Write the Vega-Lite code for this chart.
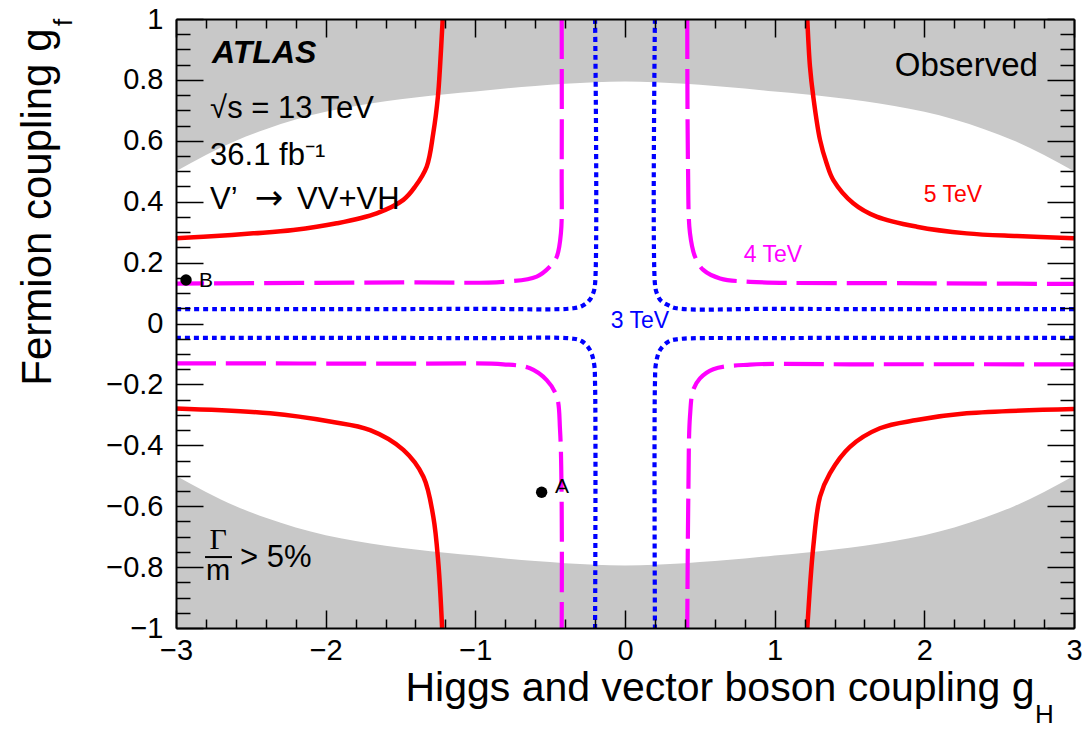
{
  "$schema": "https://vega.github.io/schema/vega-lite/v6.json",
  "width": 898,
  "height": 609,
  "autosize": {"type": "none"},
  "padding": {"left": 176, "top": 19, "right": 9, "bottom": 102},
  "background": "white",
  "config": {"view": {"fill": "#c8c8c8", "stroke": null}, "font": "Liberation Sans"},
  "datasets": {
    "bound": [
      {"x": -3.0, "lo": -0.500, "hi": 0.500},
      {"x": -2.8, "lo": -0.553, "hi": 0.553},
      {"x": -2.6, "lo": -0.600, "hi": 0.600},
      {"x": -2.4, "lo": -0.638, "hi": 0.638},
      {"x": -2.2, "lo": -0.670, "hi": 0.670},
      {"x": -2.0, "lo": -0.695, "hi": 0.695},
      {"x": -1.8, "lo": -0.714, "hi": 0.714},
      {"x": -1.6, "lo": -0.730, "hi": 0.730},
      {"x": -1.4, "lo": -0.742, "hi": 0.742},
      {"x": -1.2, "lo": -0.753, "hi": 0.753},
      {"x": -1.0, "lo": -0.762, "hi": 0.762},
      {"x": -0.8, "lo": -0.772, "hi": 0.772},
      {"x": -0.6, "lo": -0.780, "hi": 0.780},
      {"x": -0.4, "lo": -0.787, "hi": 0.787},
      {"x": -0.2, "lo": -0.792, "hi": 0.792},
      {"x": 0.0, "lo": -0.795, "hi": 0.795},
      {"x": 0.2, "lo": -0.792, "hi": 0.792},
      {"x": 0.4, "lo": -0.787, "hi": 0.787},
      {"x": 0.6, "lo": -0.780, "hi": 0.780},
      {"x": 0.8, "lo": -0.772, "hi": 0.772},
      {"x": 1.0, "lo": -0.762, "hi": 0.762},
      {"x": 1.2, "lo": -0.753, "hi": 0.753},
      {"x": 1.4, "lo": -0.742, "hi": 0.742},
      {"x": 1.6, "lo": -0.730, "hi": 0.730},
      {"x": 1.8, "lo": -0.714, "hi": 0.714},
      {"x": 2.0, "lo": -0.695, "hi": 0.695},
      {"x": 2.2, "lo": -0.670, "hi": 0.670},
      {"x": 2.4, "lo": -0.638, "hi": 0.638},
      {"x": 2.6, "lo": -0.600, "hi": 0.600},
      {"x": 2.8, "lo": -0.553, "hi": 0.553},
      {"x": 3.0, "lo": -0.500, "hi": 0.500}
    ],
    "red": [
      {"b": "UL", "i": 1, "x": -1.218, "y": 1.0},
      {"b": "UL", "i": 2, "x": -1.236, "y": 0.843},
      {"b": "UL", "i": 3, "x": -1.250, "y": 0.745},
      {"b": "UL", "i": 4, "x": -1.281, "y": 0.625},
      {"b": "UL", "i": 5, "x": -1.325, "y": 0.515},
      {"b": "UL", "i": 6, "x": -1.403, "y": 0.449},
      {"b": "UL", "i": 7, "x": -1.481, "y": 0.406},
      {"b": "UL", "i": 8, "x": -1.659, "y": 0.362},
      {"b": "UL", "i": 9, "x": -1.926, "y": 0.329},
      {"b": "UL", "i": 10, "x": -2.216, "y": 0.307},
      {"b": "UL", "i": 11, "x": -2.483, "y": 0.296},
      {"b": "UL", "i": 12, "x": -2.817, "y": 0.285},
      {"b": "UL", "i": 13, "x": -3.0, "y": 0.280},
      {"b": "UR", "i": 1, "x": 1.218, "y": 1.0},
      {"b": "UR", "i": 2, "x": 1.236, "y": 0.843},
      {"b": "UR", "i": 3, "x": 1.258, "y": 0.745},
      {"b": "UR", "i": 4, "x": 1.303, "y": 0.603},
      {"b": "UR", "i": 5, "x": 1.347, "y": 0.526},
      {"b": "UR", "i": 6, "x": 1.392, "y": 0.471},
      {"b": "UR", "i": 7, "x": 1.525, "y": 0.395},
      {"b": "UR", "i": 8, "x": 1.681, "y": 0.351},
      {"b": "UR", "i": 9, "x": 1.949, "y": 0.318},
      {"b": "UR", "i": 10, "x": 2.283, "y": 0.296},
      {"b": "UR", "i": 11, "x": 2.617, "y": 0.287},
      {"b": "UR", "i": 12, "x": 3.0, "y": 0.280},
      {"b": "LL", "i": 1, "x": -1.222, "y": -1.0},
      {"b": "LL", "i": 2, "x": -1.247, "y": -0.788},
      {"b": "LL", "i": 3, "x": -1.281, "y": -0.634},
      {"b": "LL", "i": 4, "x": -1.347, "y": -0.503},
      {"b": "LL", "i": 5, "x": -1.481, "y": -0.415},
      {"b": "LL", "i": 6, "x": -1.703, "y": -0.350},
      {"b": "LL", "i": 7, "x": -1.971, "y": -0.322},
      {"b": "LL", "i": 8, "x": -2.371, "y": -0.295},
      {"b": "LL", "i": 9, "x": -3.0, "y": -0.279},
      {"b": "LR", "i": 1, "x": 1.218, "y": -1.0},
      {"b": "LR", "i": 2, "x": 1.258, "y": -0.733},
      {"b": "LR", "i": 3, "x": 1.303, "y": -0.569},
      {"b": "LR", "i": 4, "x": 1.369, "y": -0.492},
      {"b": "LR", "i": 5, "x": 1.503, "y": -0.405},
      {"b": "LR", "i": 6, "x": 1.703, "y": -0.344},
      {"b": "LR", "i": 7, "x": 1.949, "y": -0.317},
      {"b": "LR", "i": 8, "x": 2.283, "y": -0.295},
      {"b": "LR", "i": 9, "x": 3.0, "y": -0.281}
    ],
    "magenta": [
      {"b": "UL", "i": 1, "x": -0.423, "y": 1.0},
      {"b": "UL", "i": 2, "x": -0.423, "y": 0.5},
      {"b": "UL", "i": 3, "x": -0.428, "y": 0.297},
      {"b": "UL", "i": 4, "x": -0.456, "y": 0.219},
      {"b": "UL", "i": 5, "x": -0.501, "y": 0.187},
      {"b": "UL", "i": 6, "x": -0.590, "y": 0.154},
      {"b": "UL", "i": 7, "x": -0.813, "y": 0.137},
      {"b": "UL", "i": 8, "x": -1.48, "y": 0.135},
      {"b": "UL", "i": 9, "x": -3.0, "y": 0.131},
      {"b": "UR", "i": 1, "x": 0.416, "y": 1.0},
      {"b": "UR", "i": 2, "x": 0.421, "y": 0.515},
      {"b": "UR", "i": 3, "x": 0.434, "y": 0.297},
      {"b": "UR", "i": 4, "x": 0.468, "y": 0.219},
      {"b": "UR", "i": 5, "x": 0.523, "y": 0.176},
      {"b": "UR", "i": 6, "x": 0.635, "y": 0.148},
      {"b": "UR", "i": 7, "x": 0.835, "y": 0.137},
      {"b": "UR", "i": 8, "x": 2.06, "y": 0.132},
      {"b": "UR", "i": 9, "x": 3.0, "y": 0.130},
      {"b": "LL", "i": 1, "x": -3.0, "y": -0.131},
      {"b": "LL", "i": 2, "x": -1.5, "y": -0.132},
      {"b": "LL", "i": 3, "x": -0.813, "y": -0.134},
      {"b": "LL", "i": 4, "x": -0.635, "y": -0.147},
      {"b": "LL", "i": 5, "x": -0.523, "y": -0.186},
      {"b": "LL", "i": 6, "x": -0.456, "y": -0.240},
      {"b": "LL", "i": 7, "x": -0.434, "y": -0.350},
      {"b": "LL", "i": 8, "x": -0.423, "y": -0.6},
      {"b": "LL", "i": 9, "x": -0.423, "y": -1.0},
      {"b": "LR", "i": 1, "x": 3.0, "y": -0.134},
      {"b": "LR", "i": 2, "x": 1.5, "y": -0.134},
      {"b": "LR", "i": 3, "x": 0.835, "y": -0.135},
      {"b": "LR", "i": 4, "x": 0.590, "y": -0.150},
      {"b": "LR", "i": 5, "x": 0.501, "y": -0.180},
      {"b": "LR", "i": 6, "x": 0.456, "y": -0.218},
      {"b": "LR", "i": 7, "x": 0.434, "y": -0.306},
      {"b": "LR", "i": 8, "x": 0.423, "y": -0.569},
      {"b": "LR", "i": 9, "x": 0.416, "y": -1.0}
    ],
    "blue": [
      {"b": "UL", "i": 1, "x": -0.200, "y": 1.0},
      {"b": "UL", "i": 2, "x": -0.200, "y": 0.130},
      {"b": "UL", "i": 3, "x": -0.212, "y": 0.100},
      {"b": "UL", "i": 4, "x": -0.240, "y": 0.075},
      {"b": "UL", "i": 5, "x": -0.285, "y": 0.058},
      {"b": "UL", "i": 6, "x": -0.345, "y": 0.050},
      {"b": "UL", "i": 7, "x": -1.0, "y": 0.048},
      {"b": "UL", "i": 8, "x": -3.0, "y": 0.047},
      {"b": "UR", "i": 1, "x": 0.200, "y": 1.0},
      {"b": "UR", "i": 2, "x": 0.200, "y": 0.130},
      {"b": "UR", "i": 3, "x": 0.212, "y": 0.100},
      {"b": "UR", "i": 4, "x": 0.240, "y": 0.075},
      {"b": "UR", "i": 5, "x": 0.289, "y": 0.060},
      {"b": "UR", "i": 6, "x": 0.345, "y": 0.050},
      {"b": "UR", "i": 7, "x": 1.0, "y": 0.048},
      {"b": "UR", "i": 8, "x": 3.0, "y": 0.047},
      {"b": "LL", "i": 1, "x": -3.0, "y": -0.047},
      {"b": "LL", "i": 2, "x": -1.0, "y": -0.048},
      {"b": "LL", "i": 3, "x": -0.345, "y": -0.050},
      {"b": "LL", "i": 4, "x": -0.289, "y": -0.058},
      {"b": "LL", "i": 5, "x": -0.234, "y": -0.087},
      {"b": "LL", "i": 6, "x": -0.207, "y": -0.131},
      {"b": "LL", "i": 7, "x": -0.200, "y": -0.2},
      {"b": "LL", "i": 8, "x": -0.200, "y": -1.0},
      {"b": "LR", "i": 1, "x": 3.0, "y": -0.047},
      {"b": "LR", "i": 2, "x": 1.0, "y": -0.048},
      {"b": "LR", "i": 3, "x": 0.345, "y": -0.052},
      {"b": "LR", "i": 4, "x": 0.289, "y": -0.060},
      {"b": "LR", "i": 5, "x": 0.234, "y": -0.087},
      {"b": "LR", "i": 6, "x": 0.207, "y": -0.131},
      {"b": "LR", "i": 7, "x": 0.200, "y": -0.2},
      {"b": "LR", "i": 8, "x": 0.200, "y": -1.0}
    ],
    "points": [
      {"name": "A", "x": -0.557, "y": -0.554},
      {"name": "B", "x": -2.933, "y": 0.143}
    ],
    "pointLabels": [
      {"t": "A", "x": -0.468, "y": -0.557},
      {"t": "B", "x": -2.846, "y": 0.120}
    ],
    "massLabels": [
      {"mass": "5 TeV", "x": 2.191, "y": 0.399},
      {"mass": "4 TeV", "x": 0.989, "y": 0.202},
      {"mass": "3 TeV", "x": 0.100, "y": -0.015}
    ],
    "atlas": [{"t": "ATLAS", "x": -2.759, "y": 0.855}],
    "info": [
      {"t": "√s = 13 TeV", "x": -2.772, "y": 0.675},
      {"t": "36.1 fb⁻¹", "x": -2.772, "y": 0.521},
      {"t": "V’", "x": -2.772, "y": 0.376},
      {"t": "VV+VH", "x": -2.191, "y": 0.376}
    ],
    "arrow": [{"t": "→", "x": -2.378, "y": 0.376}],
    "observed": [{"t": "Observed", "x": 2.759, "y": 0.813}],
    "gamma": [{"t": "Γ", "x": -2.719, "y": -0.741}],
    "mden": [{"t": "m", "x": -2.719, "y": -0.842}],
    "fracbar": [{"x": -2.806, "x2": -2.626, "y": -0.767}],
    "gt": [{"t": "> 5%", "x": -2.572, "y": -0.800}],
    "subH": [{"t": "H", "x": 2.739, "y": -1.312}],
    "subF": [{"t": "f", "x": -3.694, "y": 0.977}]
  },
  "resolve": {"axis": {"x": "independent", "y": "independent"}},
  "layer": [
    {
      "data": {"name": "bound"},
      "mark": {"type": "area", "color": "white", "interpolate": "monotone"},
      "encoding": {
        "x": {"field": "x", "type": "quantitative", "scale": {"domain": [-3, 3], "nice": false, "zero": false},
          "axis": {"orient": "bottom", "values": [-3, -2, -1, 0, 1, 2, 3], "format": "~g", "ticks": false, "grid": false,
            "domain": true, "domainColor": "black", "domainWidth": 2,
            "labelFont": "Liberation Sans", "labelFontSize": 29, "labelColor": "black", "labelPadding": 8,
            "labelFlush": false, "labelOverlap": false, "labelBound": false,
            "title": "Higgs and vector boson coupling g", "titleFont": "Liberation Sans", "titleFontSize": 41,
            "titleFontWeight": "normal", "titleColor": "black", "titleAlign": "left", "titleBaseline": "alphabetic",
            "titleX": 229, "titleY": 72, "zindex": 1}},
        "y": {"field": "lo", "type": "quantitative", "scale": {"domain": [-1, 1], "nice": false, "zero": false},
          "axis": {"orient": "left", "values": [-1, -0.8, -0.6, -0.4, -0.2, 0, 0.2, 0.4, 0.6, 0.8, 1], "format": "~g",
            "ticks": false, "grid": false, "domain": true, "domainColor": "black", "domainWidth": 2,
            "labelFont": "Liberation Sans", "labelFontSize": 29, "labelColor": "black", "labelPadding": 13,
            "labelFlush": false, "labelOverlap": false, "labelBound": false,
            "title": "Fermion coupling g", "titleFont": "Liberation Sans", "titleFontSize": 42,
            "titleFontWeight": "normal", "titleColor": "black", "titleAngle": 270, "titleAlign": "right",
            "titleBaseline": "alphabetic", "titleX": -126, "titleY": 9, "zindex": 1}},
        "y2": {"field": "hi"}
      }
    },
    {
      "data": {"name": "red"},
      "mark": {"type": "line", "color": "#ff0000", "strokeWidth": 4.5, "interpolate": "catmull-rom"},
      "encoding": {
        "x": {"field": "x", "type": "quantitative",
          "axis": {"orient": "bottom", "values": [-3, -2, -1, 0, 1, 2, 3], "ticks": true, "tickSize": -18, "tickColor": "black",
            "tickWidth": 1.5, "labels": false, "domain": false, "grid": false, "title": null, "zindex": 1}},
        "y": {"field": "y", "type": "quantitative",
          "axis": {"orient": "left", "values": [-1, -0.8, -0.6, -0.4, -0.2, 0, 0.2, 0.4, 0.6, 0.8, 1], "ticks": true, "tickSize": -27,
            "tickColor": "black", "tickWidth": 1.5, "labels": false, "domain": false, "grid": false, "title": null, "zindex": 1}},
        "detail": {"field": "b"},
        "order": {"field": "i", "type": "quantitative"}
      }
    },
    {
      "data": {"name": "magenta"},
      "mark": {"type": "line", "color": "#ff00ff", "strokeWidth": 4.2, "strokeDash": [40, 10], "interpolate": "catmull-rom"},
      "encoding": {
        "x": {"field": "x", "type": "quantitative",
          "axis": {"orient": "bottom", "values": [-2.8, -2.6, -2.4, -2.2, -1.8, -1.6, -1.4, -1.2, -0.8, -0.6, -0.4, -0.2, 0.2, 0.4, 0.6, 0.8, 1.2, 1.4, 1.6, 1.8, 2.2, 2.4, 2.6, 2.8],
            "ticks": true, "tickSize": -9, "tickColor": "black", "tickWidth": 1.5, "labels": false, "domain": false, "grid": false, "title": null, "zindex": 1}},
        "y": {"field": "y", "type": "quantitative",
          "axis": {"orient": "left", "values": [-0.95, -0.9, -0.85, -0.75, -0.7, -0.65, -0.55, -0.5, -0.45, -0.35, -0.3, -0.25, -0.15, -0.1, -0.05, 0.05, 0.1, 0.15, 0.25, 0.3, 0.35, 0.45, 0.5, 0.55, 0.65, 0.7, 0.75, 0.85, 0.9, 0.95],
            "ticks": true, "tickSize": -14, "tickColor": "black", "tickWidth": 1.5, "labels": false, "domain": false, "grid": false, "title": null, "zindex": 1}},
        "detail": {"field": "b"},
        "order": {"field": "i", "type": "quantitative"}
      }
    },
    {
      "data": {"name": "blue"},
      "mark": {"type": "line", "color": "#0000ff", "strokeWidth": 4.2, "strokeDash": [5, 4], "interpolate": "catmull-rom"},
      "encoding": {
        "x": {"field": "x", "type": "quantitative",
          "axis": {"orient": "top", "values": [-3, -2, -1, 0, 1, 2, 3], "ticks": true, "tickSize": -18, "tickColor": "black",
            "tickWidth": 1.5, "labels": false, "domain": true, "domainColor": "black", "domainWidth": 2, "grid": false, "title": null, "zindex": 1}},
        "y": {"field": "y", "type": "quantitative",
          "axis": {"orient": "right", "values": [-1, -0.8, -0.6, -0.4, -0.2, 0, 0.2, 0.4, 0.6, 0.8, 1], "ticks": true, "tickSize": -27,
            "tickColor": "black", "tickWidth": 1.5, "labels": false, "domain": true, "domainColor": "black", "domainWidth": 2, "grid": false, "title": null, "zindex": 1}},
        "detail": {"field": "b"},
        "order": {"field": "i", "type": "quantitative"}
      }
    },
    {
      "data": {"name": "points"},
      "mark": {"type": "point", "filled": true, "color": "black", "size": 130, "opacity": 1},
      "encoding": {
        "x": {"field": "x", "type": "quantitative",
          "axis": {"orient": "top", "values": [-2.8, -2.6, -2.4, -2.2, -1.8, -1.6, -1.4, -1.2, -0.8, -0.6, -0.4, -0.2, 0.2, 0.4, 0.6, 0.8, 1.2, 1.4, 1.6, 1.8, 2.2, 2.4, 2.6, 2.8],
            "ticks": true, "tickSize": -9, "tickColor": "black", "tickWidth": 1.5, "labels": false, "domain": false, "grid": false, "title": null, "zindex": 1}},
        "y": {"field": "y", "type": "quantitative",
          "axis": {"orient": "right", "values": [-0.95, -0.9, -0.85, -0.75, -0.7, -0.65, -0.55, -0.5, -0.45, -0.35, -0.3, -0.25, -0.15, -0.1, -0.05, 0.05, 0.1, 0.15, 0.25, 0.3, 0.35, 0.45, 0.5, 0.55, 0.65, 0.7, 0.75, 0.85, 0.9, 0.95],
            "ticks": true, "tickSize": -14, "tickColor": "black", "tickWidth": 1.5, "labels": false, "domain": false, "grid": false, "title": null, "zindex": 1}}
      }
    },
    {
      "data": {"name": "pointLabels"},
      "mark": {"type": "text", "font": "Liberation Sans", "fontSize": 21, "align": "left", "baseline": "alphabetic", "color": "black"},
      "encoding": {
        "x": {"field": "x", "type": "quantitative", "axis": null},
        "y": {"field": "y", "type": "quantitative", "axis": null},
        "text": {"field": "t"}
      }
    },
    {
      "data": {"name": "massLabels"},
      "mark": {"type": "text", "font": "Liberation Sans", "fontSize": 23, "align": "center", "baseline": "alphabetic"},
      "encoding": {
        "x": {"field": "x", "type": "quantitative", "axis": null},
        "y": {"field": "y", "type": "quantitative", "axis": null},
        "text": {"field": "mass"},
        "color": {"field": "mass", "type": "nominal", "scale": {"domain": ["3 TeV", "4 TeV", "5 TeV"], "range": ["#0000ff", "#ff00ff", "#ff0000"]}, "legend": null}
      }
    },
    {
      "data": {"name": "atlas"},
      "mark": {"type": "text", "font": "Liberation Sans", "fontSize": 32, "fontWeight": "bold", "fontStyle": "italic", "align": "left", "baseline": "alphabetic", "color": "black"},
      "encoding": {
        "x": {"field": "x", "type": "quantitative", "axis": null},
        "y": {"field": "y", "type": "quantitative", "axis": null},
        "text": {"field": "t"}
      }
    },
    {
      "data": {"name": "info"},
      "mark": {"type": "text", "font": "Liberation Sans", "fontSize": 31, "align": "left", "baseline": "alphabetic", "color": "black"},
      "encoding": {
        "x": {"field": "x", "type": "quantitative", "axis": null},
        "y": {"field": "y", "type": "quantitative", "axis": null},
        "text": {"field": "t"}
      }
    },
    {
      "data": {"name": "arrow"},
      "mark": {"type": "text", "font": "DejaVu Sans", "fontSize": 34, "align": "center", "baseline": "alphabetic", "color": "black"},
      "encoding": {
        "x": {"field": "x", "type": "quantitative", "axis": null},
        "y": {"field": "y", "type": "quantitative", "axis": null},
        "text": {"field": "t"}
      }
    },
    {
      "data": {"name": "observed"},
      "mark": {"type": "text", "font": "Liberation Sans", "fontSize": 33, "align": "right", "baseline": "alphabetic", "color": "black"},
      "encoding": {
        "x": {"field": "x", "type": "quantitative", "axis": null},
        "y": {"field": "y", "type": "quantitative", "axis": null},
        "text": {"field": "t"}
      }
    },
    {
      "data": {"name": "gamma"},
      "mark": {"type": "text", "font": "Liberation Serif", "fontSize": 30, "align": "center", "baseline": "alphabetic", "color": "black"},
      "encoding": {
        "x": {"field": "x", "type": "quantitative", "axis": null},
        "y": {"field": "y", "type": "quantitative", "axis": null},
        "text": {"field": "t"}
      }
    },
    {
      "data": {"name": "mden"},
      "mark": {"type": "text", "font": "Liberation Sans", "fontSize": 29, "align": "center", "baseline": "alphabetic", "color": "black"},
      "encoding": {
        "x": {"field": "x", "type": "quantitative", "axis": null},
        "y": {"field": "y", "type": "quantitative", "axis": null},
        "text": {"field": "t"}
      }
    },
    {
      "data": {"name": "fracbar"},
      "mark": {"type": "rule", "color": "black", "strokeWidth": 2},
      "encoding": {
        "x": {"field": "x", "type": "quantitative", "axis": null},
        "x2": {"field": "x2"},
        "y": {"field": "y", "type": "quantitative", "axis": null}
      }
    },
    {
      "data": {"name": "gt"},
      "mark": {"type": "text", "font": "Liberation Sans", "fontSize": 31, "align": "left", "baseline": "alphabetic", "color": "black"},
      "encoding": {
        "x": {"field": "x", "type": "quantitative", "axis": null},
        "y": {"field": "y", "type": "quantitative", "axis": null},
        "text": {"field": "t"}
      }
    },
    {
      "data": {"name": "subH"},
      "mark": {"type": "text", "font": "Liberation Sans", "fontSize": 26, "align": "left", "baseline": "alphabetic", "color": "black", "clip": false},
      "encoding": {
        "x": {"field": "x", "type": "quantitative", "axis": null},
        "y": {"field": "y", "type": "quantitative", "axis": null},
        "text": {"field": "t"}
      }
    },
    {
      "data": {"name": "subF"},
      "mark": {"type": "text", "font": "Liberation Sans", "fontSize": 26, "angle": 270, "align": "left", "baseline": "alphabetic", "color": "black", "clip": false},
      "encoding": {
        "x": {"field": "x", "type": "quantitative", "axis": null},
        "y": {"field": "y", "type": "quantitative", "axis": null},
        "text": {"field": "t"}
      }
    }
  ]
}
